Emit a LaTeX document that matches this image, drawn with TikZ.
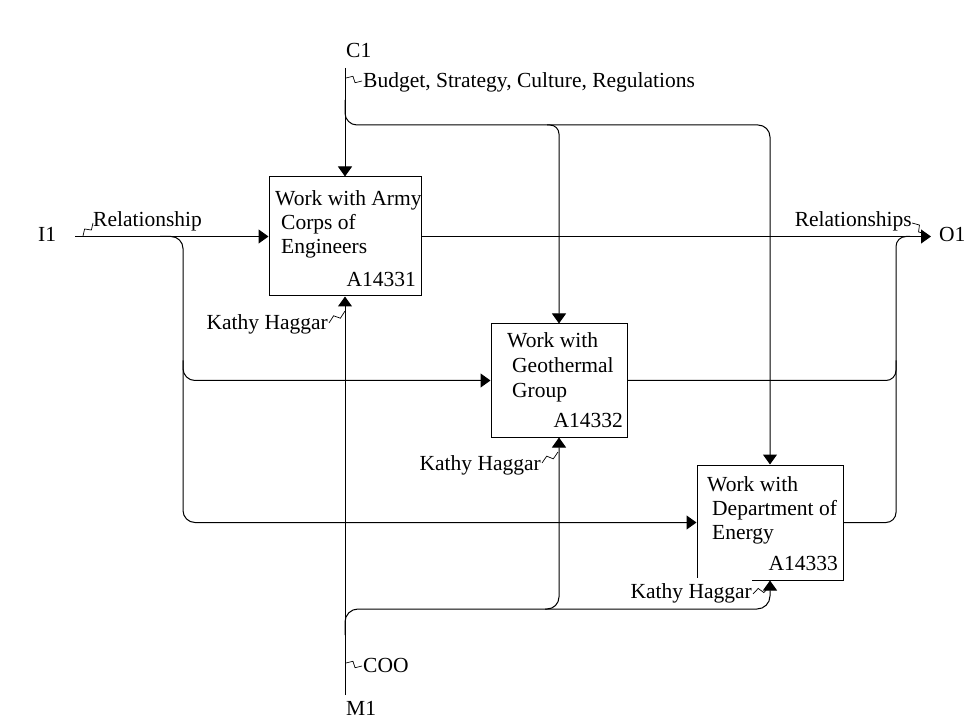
\documentclass[tikz,border=0pt]{standalone}
\usepackage{fontspec}
\setmainfont{Liberation Serif}
\usetikzlibrary{arrows.meta,calc}
\newcommand{\squig}[2]{\draw[sq] (#1) -- ($(#1)!0.4!(#2)!3pt!90:(#2)$) -- ($(#1)!0.6!(#2)!3pt!-90:(#2)$) -- (#2);}
\begin{document}
\begin{tikzpicture}[x=1pt,y=-1pt,
  every node/.style={font=\fontsize{21.5}{24}\selectfont, inner sep=0pt},
  box/.style={draw, line width=1pt},
  txt/.style={anchor=base west},
  txte/.style={anchor=base east},
  ln/.style={line width=1pt},
  arr/.style={line width=1pt, -{Triangle[length=10pt,width=14pt]}},
  sq/.style={line width=0.7pt}]
\useasboundingbox (0,0) rectangle (967,719);
\fill[white] (0,0) rectangle (967,719);

% boxes
\node[box, minimum width=152pt, minimum height=119pt] (b1) at (345,236.5) {};
\node[box, minimum width=136pt, minimum height=113pt] (b2) at (559,380.5) {};
\node[box, minimum width=146pt, minimum height=115pt] (b3) at (770,522.5) {};

% box texts
\node[txt] (t11) at (275,206) {Work with Army};
\node[txt] (t12) at (281,230) {Corps of};
\node[txt] (t13) at (281,254) {Engineers};
\node[txte] (id1) at (416,287) {A14331};
\node[txt] (t21) at (507,348) {Work with};
\node[txt] (t22) at (512,373) {Geothermal};
\node[txt] (t23) at (512,397) {Group};
\node[txte] (id2) at (623,428) {A14332};
\node[txt] (t31) at (707,491) {Work with};
\node[txt] (t32) at (712,515) {Department of};
\node[txt] (t33) at (712,539) {Energy};
\node[txte] (id3) at (838,570) {A14333};

% boundary labels
\node[txt] (lC1) at (346,58) {C1};
\node[txt] (lM1) at (346,715) {M1};
\node[txt] (lI1) at (38,242) {I1};
\node[txt] (lO1) at (939,242) {O1};

% control
\coordinate (C1) at (345,68);
\coordinate (cbr) at (345,100);
\coordinate (ch) at (0,125);
\draw[arr] (C1) -- (b1.north);
\draw[arr, rounded corners=12pt] (cbr) |- (b3.north |- ch) -- (b3.north);
\draw[arr, rounded corners=9pt] ($(b2.north |- ch)+(-12,0)$) -- (b2.north |- ch) -- (b2.north);

% input
\coordinate (I1) at (75,236.5);
\coordinate (ibr) at (160,236.5);
\coordinate (iv) at (183,0);
\draw[arr] (I1) -- (b1.west);
\draw[arr, rounded corners=12pt] (ibr) -| (iv |- b3.west) -- (b3.west);
\draw[arr, rounded corners=12pt] ($(iv |- b2.west)+(0,-20)$) |- (b2.west);

% output
\coordinate (O1) at (931,236.5);
\coordinate (ov) at (896,0);
\draw[arr] (b1.east) -- (O1);
\draw[ln, rounded corners=10pt] (b3.east) -| (ov |- O1) -- ($(ov |- O1)+(14,0)$);
\draw[ln, rounded corners=10pt] (b2.east) -| ($(ov |- b2.east)+(0,-20)$);

% mechanism
\coordinate (M1) at (345,695);
\coordinate (mh) at (0,609);
\draw[arr] (M1) -- (b1.south);
\draw[arr, rounded corners=13pt] ($(M1)+(0,-60)$) |- (b3.south |- mh) -- (b3.south);
\draw[arr, rounded corners=12pt] ($(b2.south |- mh)+(-14,0)$) -- (b2.south |- mh) -- (b2.south);

% arrow labels
\node[txt] (lbud) at (363,88) {Budget, Strategy, Culture, Regulations};
\coordinate (s1a) at (346,78); \coordinate (s1b) at (362,81);
\squig{s1a}{s1b}
\node[txt] (lrel) at (93,227) {Relationship};
\coordinate (s2a) at (83,236); \coordinate (s2b) at (93,223);
\squig{s2a}{s2b}
\node[txte] (lrels) at (912,227) {Relationships};
\coordinate (s3a) at (912,223); \coordinate (s3b) at (926,234);
\squig{s3a}{s3b}
\node[txte] (lk1) at (328,330) {Kathy Haggar};
\coordinate (s4a) at (329,323); \coordinate (s4b) at (345,311);
\squig{s4a}{s4b}
\node[txte] (lk2) at (541,470) {Kathy Haggar};
\coordinate (s5a) at (542,463); \coordinate (s5b) at (558,452);
\squig{s5a}{s5b}
\node[txte, fill=white, inner ysep=5pt] (lk3) at (752,598) {Kathy Haggar};
\coordinate (s6a) at (753,594); \coordinate (s6b) at (769,587);
\squig{s6a}{s6b}
\node[txt] (lcoo) at (363,672) {COO};
\coordinate (s7a) at (346,663); \coordinate (s7b) at (362,666);
\squig{s7a}{s7b}
\end{tikzpicture}
\end{document}
